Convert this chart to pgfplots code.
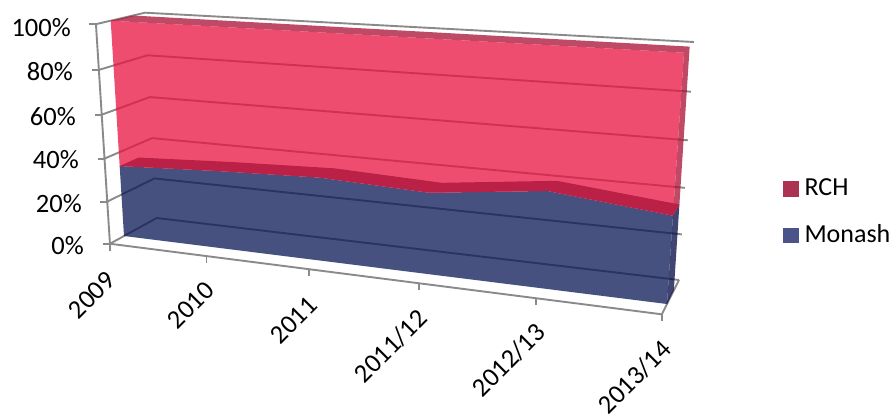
\documentclass[border=0pt]{standalone}
\usepackage{pgfplots}
\usepackage{pgfplotstable}
\usepackage{fontspec}
\setmainfont{Carlito}
\pgfplotsset{compat=1.18}

% Colours of the faces (laid over the grid with partial opacity)
\definecolor{gridgray}{RGB}{138,138,138}
\definecolor{rchface}{RGB}{232,18,64}
\definecolor{rchedge}{RGB}{170,14,51}
\definecolor{monashface}{RGB}{10,23,86}
\definecolor{monashtop}{RGB}{187,33,71}
\definecolor{monashside}{RGB}{0,8,66}
\definecolor{rchkey}{RGB}{171,50,82}
\definecolor{monashkey}{RGB}{74,84,136}

% Share of each hospital per period (percent)
% u: period index, v: cumulative share, q: depth (0 front of the series, 1 back wall)
\pgfplotstableread{
u v q
0 0 0
1 0 0
2 0 0
3 0 0
4 0 0
5 0 0
5 36.5 0
4 41.5 0
3 35.8 0
2 37.6 0
1 35.9 0
0 33.6 0
}\monashfront
\pgfplotstableread{
u v q
0 33.6 0
1 35.9 0
2 37.6 0
3 35.8 0
4 41.5 0
5 36.5 0
5 100 0
0 100 0
}\rchfront
\pgfplotstableread{
u v q
0 33.6 0
1 35.9 0
2 37.6 0
3 35.8 0
4 41.5 0
5 36.5 0
5 36.5 0.57
4 41.5 0.57
3 35.8 0.57
2 37.6 0.57
1 35.9 0.57
0 33.6 0.57
}\monashtopface
\pgfplotstableread{
u v q
0 100 0
5 100 0
5 100 0.57
0 100 0.65
}\rchtopface
\pgfplotstableread{
u v q
5 36.5 0
5 100 0
5 100 0.57
5 36.5 0.57
}\rchsideface
\pgfplotstableread{
u v q
5 0 0
5 36.5 0
5 36.5 0.57
5 0 0.57
}\monashsideface

% Gridline path: across the side wall, then along the back wall
\pgfplotstableread{
u q
0 -0.43
0 1
5 1
}\wallpath
% Frame of the box
\pgfplotstableread{
u v q
0 100 -0.43
0 0 -0.43
5 0 -0.43
5 0 1
}\framepath
\pgfplotstableread{
u v q
0 0 -0.43
0 20 -0.43
0 40 -0.43
0 60 -0.43
0 80 -0.43
0 100 -0.43
}\valueticks
\pgfplotstableread{
u v q
0 0 -0.43
1 0 -0.43
2 0 -0.43
3 0 -0.43
4 0 -0.43
5 0 -0.43
}\periodticks

\pgfdeclareplotmark{tickleft}{\pgfpathmoveto{\pgfpoint{-7pt}{0pt}}\pgfpathlineto{\pgfpointorigin}\pgfusepathqstroke}
\pgfdeclareplotmark{tickdown}{\pgfpathmoveto{\pgfpoint{0pt}{-7pt}}\pgfpathlineto{\pgfpointorigin}\pgfusepathqstroke}

% Draws a table of (u,v,q) rows through the perspective of the box
\newcommand{\boxplot}[2]{\addplot[forget plot,#1] table[
  x expr={camx(\thisrow{u},\thisrow{v},\thisrow{q})},
  y expr={camy(\thisrow{u},\thisrow{v},\thisrow{q})}] {#2}}

\begin{document}
\begin{tikzpicture}
\path[use as bounding box] (0,0) rectangle (896pt,413pt);
\fontsize{26.5}{31}\selectfont
\begin{axis}[
  at={(0,0)}, anchor=south west,
  width=896pt, height=413pt, scale only axis,
  xmin=0, xmax=896, ymin=0, ymax=413, y dir=reverse,
  hide axis, clip=false,
  declare function={
    frontw(\U,\V)=1-0.1494*\U/5-0.0484*\V/100;
    backw(\U,\V)=1-0.1429*\U/5-0.0447*\V/100;
    camx(\U,\V,\Q)=(1-\Q)*(443.35*\U/5-18.66*\V/100+124)/frontw(\U,\V)
                  +\Q*(425.27*\U/5-18.18*\V/100+156.7)/backw(\U,\V);
    camy(\U,\V,\Q)=(1-\Q)*(22.58*\U/5-216.3*\V/100+236)/frontw(\U,\V)
                  +\Q*(21.99*\U/5-205.87*\V/100+218)/backw(\U,\V);
  },
  legend style={
    at={(axis cs:783,176.5)}, anchor=north west, draw=none, fill=none,
    font=\fontsize{26}{31}\selectfont, row sep=21pt,
    inner sep=0pt, outer sep=0pt,
  },
  legend cell align=left,
  legend image code/.code={\fill[#1] (0pt,-8pt) rectangle (15.5pt,7.5pt);},
]
% Walls and grid
\pgfplotsinvokeforeach{0,20,40,60,80,100}{
  \addplot[forget plot, gridgray, line width=1.9pt] table[
    x expr={camx(\thisrow{u},#1,\thisrow{q})},
    y expr={camy(\thisrow{u},#1,\thisrow{q})}] {\wallpath};
}
\boxplot{gridgray, line width=1.9pt}{\framepath};
\boxplot{only marks, mark=tickleft, gridgray, line width=1.9pt}{\valueticks};
\boxplot{only marks, mark=tickdown, gridgray, line width=1.9pt}{\periodticks};

% Stacked areas
\boxplot{draw=none, fill=monashside, fill opacity=0.75}{\monashsideface} -- cycle;
\boxplot{draw=none, fill=rchedge, fill opacity=0.75}{\rchsideface} -- cycle;
\boxplot{draw=none, fill=rchedge, fill opacity=0.75}{\rchtopface} -- cycle;
\boxplot{draw=none, fill=monashface, fill opacity=0.75}{\monashfront} -- cycle;
\boxplot{draw=none, fill=rchface, fill opacity=0.75}{\rchfront} -- cycle;
\boxplot{draw=none, fill=monashtop}{\monashtopface} -- cycle;

% Value labels
\node[anchor=east, inner sep=0pt] at (axis cs:71,28) {100\%};
\node[anchor=east, inner sep=0pt] at (axis cs:73,72) {80\%};
\node[anchor=east, inner sep=0pt] at (axis cs:76,117) {60\%};
\node[anchor=east, inner sep=0pt] at (axis cs:79,160) {40\%};
\node[anchor=east, inner sep=0pt] at (axis cs:82,204) {20\%};
\node[anchor=east, inner sep=0pt] at (axis cs:84,246) {0\%};

% Period labels
\node[anchor=east, rotate=45, inner sep=0pt] at (axis cs:111,276) {2009};
\node[anchor=east, rotate=45, inner sep=0pt] at (axis cs:210,286) {2010};
\node[anchor=east, rotate=45, inner sep=0pt] at (axis cs:313,301) {2011};
\node[anchor=east, rotate=45, inner sep=0pt] at (axis cs:423,314) {2011/12};
\node[anchor=east, rotate=45, inner sep=0pt] at (axis cs:541,328) {2012/13};
\node[anchor=east, rotate=45, inner sep=0pt] at (axis cs:667,345) {2013/14};

% Key
\addlegendimage{fill=rchkey, draw=none}
\addlegendentry{\hspace{4pt}RCH}
\addlegendimage{fill=monashkey, draw=none}
\addlegendentry{\hspace{4pt}Monash}
\end{axis}
\end{tikzpicture}
\end{document}
